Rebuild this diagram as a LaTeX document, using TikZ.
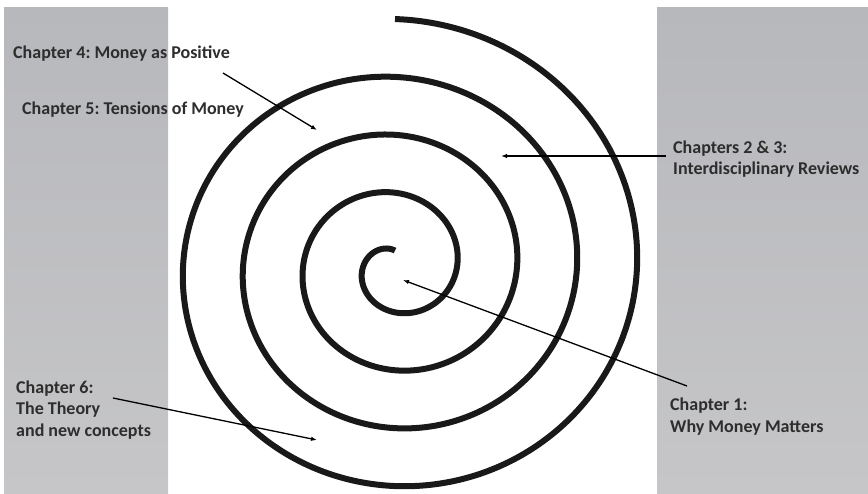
\documentclass[tikz,border=0pt]{standalone}
\usepackage{fontspec}
\setmainfont{Carlito}
\usetikzlibrary{arrows.meta,positioning}
\definecolor{panelgray}{RGB}{183,184,188}
\definecolor{panelgraylight}{RGB}{198,198,200}
\definecolor{labeltext}{RGB}{45,45,45}
\tikzset{
  panel/.style={top color=panelgray, bottom color=panelgraylight, draw=none},
  spiral/.style={line width=6pt, black!90},
  chapter/.style={font=\bfseries\fontsize{18}{21.5}\selectfont\frenchspacing, text=labeltext, align=left, inner sep=0pt, anchor=north west},
  pointer/.style={-{Latex[length=6pt,width=4.5pt]}, line width=1.3pt},
}

\begin{document}
\begin{tikzpicture}[x=1pt,y=-1pt]
  \useasboundingbox (0,0) rectangle (868,493);
  \shade[panel] (4,7) rectangle (168,493);
  \shade[panel] (657,7) rectangle (868,493);

  % spiral, four turns round (395,267)
  \draw[spiral] plot[domain=90:1530, samples=480, smooth]
    ({395+(2+\x/6)*cos(\x)}, {267-0.965*(2+\x/6)*sin(\x)});

  \node[chapter] (ch4) at (13,45.5) {Chapter 4: Money as Positive};
  \node[chapter] (ch5) at (22,101.5) {Chapter 5: Tensions of Money};
  \node[chapter] (ch23) at (673,140.5) {Chapters 2 \& 3:\\Interdisciplinary Reviews};
  \node[chapter] (ch1) at (670,398) {Chapter 1:\\Why Money Matters};
  \node[chapter] (ch6) at (16,380.5) {Chapter 6:\\The Theory\\and new concepts};

  \coordinate (ch4from) at (223,73);
  \coordinate (ch4to) at (317,130);
  \coordinate (ch23from) at (666,156);
  \coordinate (ch23to) at (501,156);
  \coordinate (ch1from) at (687,386);
  \coordinate (ch1to) at (403,280);
  \coordinate (ch6from) at (113,398);
  \coordinate (ch6to) at (317,440);

  \draw[pointer] (ch4from) -- (ch4to);
  \draw[pointer] (ch23from) -- (ch23to);
  \draw[pointer] (ch1from) -- (ch1to);
  \draw[pointer] (ch6from) -- (ch6to);
\end{tikzpicture}
\end{document}
